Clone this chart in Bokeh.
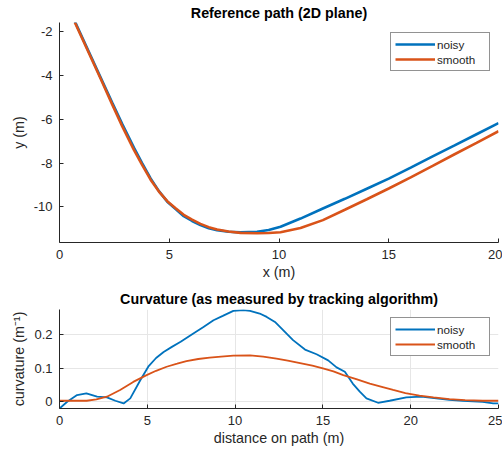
from bokeh.plotting import figure
from bokeh.layouts import column
from bokeh.models import Range1d, FixedTicker, Legend, LegendItem, CustomJSTickFormatter
from bokeh.embed import file_html
from bokeh.resources import INLINE

# ---- data: reference path ----
path_x = [0.7, 1.87, 2.4, 2.86, 3.39, 3.77, 4.15, 4.53, 4.91, 5.29, 5.66, 6.04,
          6.42, 6.8, 7.18, 7.7, 8.25, 9.0, 9.53, 10.07, 10.98, 12.0, 13.0, 14.0,
          15.0, 16.0, 17.0, 18.0, 19.0, 20.0]
noisy_y = [-1.55, -4.1, -5.25, -6.23, -7.3, -8.02, -8.7, -9.28, -9.76, -10.1,
           -10.42, -10.64, -10.83, -10.97, -11.06, -11.13, -11.16, -11.13, -11.05,
           -10.9, -10.53, -10.07, -9.63, -9.17, -8.71, -8.21, -7.7, -7.2, -6.69,
           -6.18]
smooth_y = [-1.6, -4.15, -5.33, -6.33, -7.4, -8.1, -8.76, -9.3, -9.74, -10.06,
            -10.36, -10.58, -10.77, -10.92, -11.03, -11.12, -11.18, -11.2, -11.19,
            -11.15, -10.96, -10.6, -10.13, -9.65, -9.16, -8.65, -8.13, -7.6,
            -7.08, -6.55]

# ---- data: curvature ----
noisy_d = [0.0, 0.44, 1.0, 1.53, 2.14, 2.7, 3.18, 3.65, 4.03, 4.6, 5.08, 5.5, 5.93,
           6.4, 6.9, 7.6, 8.2, 8.77, 9.3, 9.9, 10.47, 10.85, 11.4, 11.8, 12.27,
           12.75, 13.3, 13.98, 14.64, 15.3, 15.78, 16.25, 16.7, 17.1, 17.48,
           18.14, 18.8, 19.75, 20.6, 21.46, 22.2, 22.97, 24.1, 24.7, 25.0]
noisy_k = [-0.02, 0.0, 0.02, 0.025, 0.015, 0.013, 0.003, -0.005, 0.01, 0.064,
           0.106, 0.13, 0.148, 0.163, 0.178, 0.202, 0.222, 0.242, 0.255, 0.27,
           0.272, 0.27, 0.262, 0.252, 0.237, 0.212, 0.183, 0.155, 0.141, 0.123,
           0.102, 0.089, 0.054, 0.03, 0.01, -0.003, 0.003, 0.013, 0.015, 0.01,
           0.006, 0.003, 0.0, -0.005, -0.005]
smooth_d = [0.0, 1.55, 2.1, 2.7, 3.45, 4.2, 4.96, 5.5, 6.1, 6.7, 7.23, 7.9, 8.55,
            9.2, 9.9, 10.85, 11.6, 12.36, 13.0, 13.7, 14.4, 15.0, 15.6, 16.16,
            16.9, 17.67, 18.3, 19.0, 19.7, 20.5, 21.3, 22.2, 23.1, 24.1, 25.0]
smooth_k = [0.003, 0.003, 0.007, 0.015, 0.035, 0.059, 0.079, 0.092, 0.104, 0.113,
            0.121, 0.127, 0.131, 0.134, 0.137, 0.138, 0.134, 0.128, 0.122, 0.115,
            0.107, 0.099, 0.09, 0.079, 0.067, 0.054, 0.045, 0.035, 0.026, 0.018,
            0.013, 0.008, 0.005, 0.003, 0.003]

top_xticks = [0, 5, 10, 15, 20]
top_yticks = [-10, -8, -6, -4, -2]
bot_xticks = [0, 5, 10, 15, 20, 25]
bot_yticks = [0, 0.1, 0.2]

BLUE = "#0072BD"
ORANGE = "#D95319"
AX = "#262626"
FONT = "Liberation Sans"
PLAIN = CustomJSTickFormatter(code="return String(Math.round(tick * 10) / 10);")


def style(p, title_standoff):
    p.title.text_font = FONT
    p.title.text_font_size = "14.3px"
    p.title.text_font_style = "bold"
    p.title.align = "center"
    p.title.text_color = "#000000"
    p.title.standoff = title_standoff
    p.outline_line_color = None
    p.background_fill_color = "white"
    p.border_fill_color = "white"
    for ax in (p.xaxis[0], p.yaxis[0]):
        ax.axis_line_color = AX
        ax.major_tick_line_color = AX
        ax.major_tick_in = 4
        ax.major_tick_out = 0
        ax.minor_tick_line_color = None
        ax.major_label_text_font = FONT
        ax.major_label_text_font_size = "13px"
        ax.major_label_text_color = AX
        ax.axis_label_text_font = FONT
        ax.axis_label_text_font_size = "14.3px"
        ax.axis_label_text_font_style = "normal"
        ax.axis_label_text_color = AX
        ax.formatter = PLAIN
    p.xaxis.major_label_standoff = 7
    p.yaxis.major_label_standoff = 7
    p.xaxis.axis_label_standoff = 2
    p.yaxis.axis_label_standoff = 4


# ---- top figure ----
p1 = figure(width=502, height=282, output_backend="svg", toolbar_location=None,
            title="Reference path (2D plane)",
            x_range=Range1d(0, 20), y_range=Range1d(-11.62, -1.6),
            min_border_left=59, min_border_right=4, min_border_top=22,
            min_border_bottom=40)
style(p1, 3)
p1.xgrid.visible = False
p1.ygrid.visible = False
p1.xaxis.ticker = FixedTicker(ticks=top_xticks)
p1.yaxis.ticker = FixedTicker(ticks=top_yticks)
p1.xaxis.axis_label = "x (m)"
p1.yaxis.axis_label = "y (m)"
r1 = p1.line(path_x, noisy_y, line_color=BLUE, line_width=2.6)
r2 = p1.line(path_x, smooth_y, line_color=ORANGE, line_width=2.6)
leg1 = Legend(items=[LegendItem(label="noisy", renderers=[r1]),
                     LegendItem(label="smooth", renderers=[r2])],
              location=(331, 171))
p1.add_layout(leg1, "center")

# ---- bottom figure ----
p2 = figure(width=502, height=172, output_backend="svg", toolbar_location=None,
            title="Curvature (as measured by tracking algorithm)",
            x_range=Range1d(0, 25), y_range=Range1d(-0.02, 0.274),
            min_border_left=59, min_border_right=3, min_border_top=27,
            min_border_bottom=46)
style(p2, 5)
p2.xaxis.ticker = FixedTicker(ticks=bot_xticks)
p2.yaxis.ticker = FixedTicker(ticks=bot_yticks)
p2.xaxis.axis_label = "distance on path (m)"
p2.yaxis.axis_label = "curvature (m⁻¹)"
p2.xgrid.grid_line_color = "#e6e6e6"
p2.ygrid.grid_line_color = "#e6e6e6"
r3 = p2.line(noisy_d, noisy_k, line_color=BLUE, line_width=1.8)
r4 = p2.line(smooth_d, smooth_k, line_color=ORANGE, line_width=1.8)
leg2 = Legend(items=[LegendItem(label="noisy", renderers=[r3]),
                     LegendItem(label="smooth", renderers=[r4])],
              location=(331, 52))
p2.add_layout(leg2, "center")

for lg in (leg1, leg2):
    lg.label_text_font = FONT
    lg.label_text_font_size = "11.7px"
    lg.label_text_color = AX
    lg.border_line_color = "#262626"
    lg.border_line_width = 1
    lg.background_fill_color = "white"
    lg.background_fill_alpha = 1
    lg.glyph_width = 40
    lg.glyph_height = 14
    lg.label_height = 14
    lg.label_width = 48
    lg.label_standoff = 2
    lg.spacing = 1
    lg.padding = 4
    lg.margin = 0

layout = column(p1, p2, spacing=0)
open("out.html", "w").write(file_html(layout, INLINE))
